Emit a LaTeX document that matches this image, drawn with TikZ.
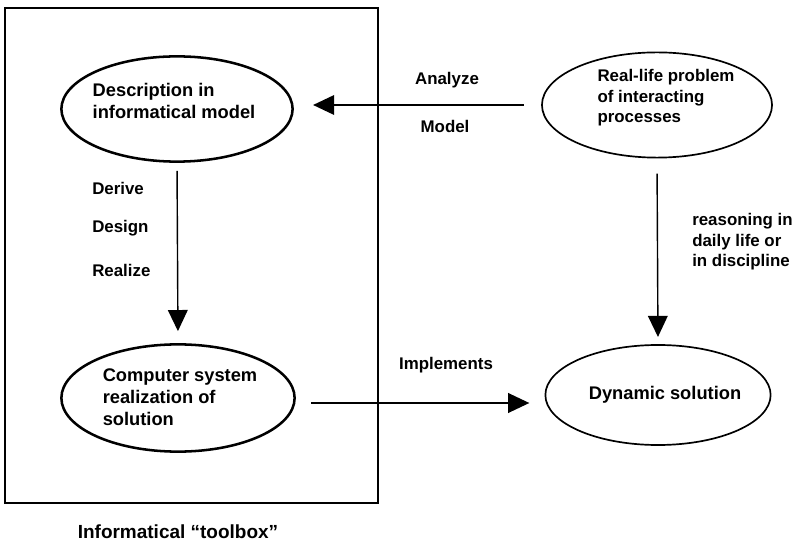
\documentclass[tikz,border=0pt]{standalone}
\usepackage{fontspec}
\setmainfont{Liberation Sans}
\usepackage{tikz}
\usetikzlibrary{arrows.meta,shapes.geometric}
\usetikzlibrary{positioning}

\tikzset{
    blob/.style={ellipse,draw,line width=1.8pt,inner sep=0pt},
    word/.style={align=left,inner sep=0pt,font=\bfseries\fontsize{12}{14.5}\selectfont},
    bigword/.style={word,font=\bfseries\fontsize{13}{15.5}\selectfont},
    arr/.style={-{Triangle[length=15pt,width=14pt]},line width=1pt}
}

\begin{document}
\begin{tikzpicture}[x=0.025cm,y=-0.025cm]
    \useasboundingbox (0,0) rectangle (802,543);

        \node[draw,line width=1.2pt,minimum width=9.325cm,minimum height=12.375cm,inner sep=0pt]
            (toolbox) at (191.5,255.5) {};
        \node[bigword,font=\bfseries\fontsize{13.5}{16}\selectfont] (toolboxname) at (178,532)
            {Informatical “toolbox”};

        \begin{scope}[every node/.style={blob}]
            \node[minimum width=5.78cm,minimum height=2.63cm] (desc) at (177,109) {};
            \node[line width=1.2pt,minimum width=5.75cm,minimum height=2.63cm] (real) at (657,105) {};
            \node[minimum width=5.83cm,minimum height=2.68cm] (comp) at (178,398) {};
            \node[line width=1.2pt,minimum width=5.63cm,minimum height=2.5cm] (dyn) at (658,395) {};
        \end{scope}

        \node[bigword] (desctext) at (174,101) {Description in\\informatical model};
        \node[word] (realtext) at (666,98) {Real-life problem\\of interacting\\processes};
        \node[bigword] (comptext) at (180,397) {Computer system\\realization of\\solution};
        \node[bigword] (dyntext) at (665,395) {Dynamic solution};

        \coordinate (implrow) at (0,403);

        \begin{scope}[every node/.style={word}]
            \draw[arr,shorten <=0.43cm,shorten >=0.48cm] (real.west) -- (desc.east |- real.west);
            \draw[arr,shorten <=0.2cm,shorten >=0.3cm] (desc.south) -- (comp.north);
            \draw[arr,shorten <=0.38cm,shorten >=0.18cm] (real.south) -- (dyn.north);
            \draw[arr,shorten <=0.38cm,shorten >=0.38cm] (comp.east |- implrow) -- (dyn.west |- implrow);

            \node (analyze) at (447,80) {Analyze};
            \node (model) at (445,126) {Model};
            \node[anchor=west] (derive) at (92,188) {Derive};
            \node[anchor=west] (design) at (92,228) {Design};
            \node[anchor=west] (realize) at (92,270) {Realize};
            \node[anchor=west] (reasoning) at (692,242) {reasoning in\\daily life or\\in discipline};
            \node (implements) at (446,365) {Implements};
        \end{scope}
    \end{tikzpicture}
\end{document}
